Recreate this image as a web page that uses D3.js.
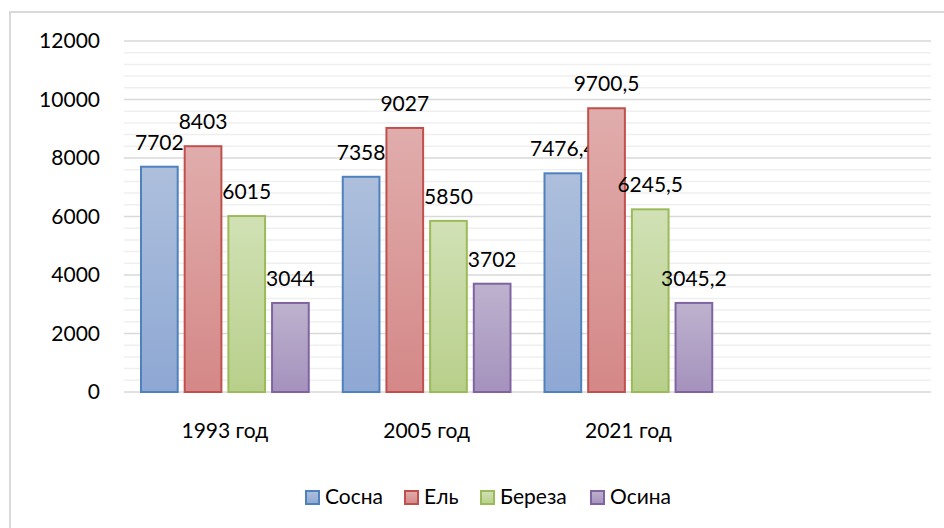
<!DOCTYPE html>
<html>
<head>
<meta charset="utf-8">
<script src="https://cdn.jsdelivr.net/npm/d3@7"></script>
<style>
  body { margin: 0; background: #fff; }
  text { font-family: Lato, "Open Sans", sans-serif; fill: #000; }
</style>
</head>
<body>
<script>
// data
let categories = ["1993 год", "2005 год", "2021 год", ""];
let seriesNames = ["Сосна", "Ель", "Береза", "Осина"];
let sosna  = [7702, 7358, 7476.4];
let el     = [8403, 9027, 9700.5];
let bereza = [6015, 5850, 6245.5];
let osina  = [3044, 3702, 3045.2];
let yTicks = [0, 2000, 4000, 6000, 8000, 10000, 12000];

let values = [sosna, el, bereza, osina];
let strokes = ["#4f81bd", "#c0504d", "#9bbb59", "#8064a2"];
let topCols = ["#adbfdc", "#e0adac", "#d1e1b5", "#bdb2ce"];
let botCols = ["#8ea8d4", "#d48887", "#b8cf8b", "#a592bd"];

let W = 944, H = 528;
let margin = {top: 41, right: 13, bottom: 136, left: 124};
let width = W - margin.left - margin.right;
let height = H - margin.top - margin.bottom;
let fontSize = "21px";

let svg = d3.select("body").append("svg")
    .attr("width", W).attr("height", H);

// outer frame (runs off the bottom/right edge)
svg.append("rect")
    .attr("x", 10).attr("y", 12)
    .attr("width", 960).attr("height", 540)
    .attr("fill", "none").attr("stroke", "#d9d9d9").attr("stroke-width", 2);

// gradients
let defs = svg.append("defs");
seriesNames.forEach(function(s, i) {
    let gr = defs.append("linearGradient").attr("id", "grad" + i)
        .attr("x1", 0).attr("y1", 0).attr("x2", 0).attr("y2", 1);
    gr.append("stop").attr("offset", "0%").attr("stop-color", topCols[i]);
    gr.append("stop").attr("offset", "100%").attr("stop-color", botCols[i]);
});

let g = svg.append("g")
    .attr("transform", "translate(" + margin.left + "," + margin.top + ")");

let x0 = d3.scaleBand().domain(categories).range([0, width]);
let x1 = d3.scaleBand().domain(seriesNames)
    .range([17, x0.bandwidth() - 17]).paddingInner(0.16);
let y = d3.scaleLinear().domain([0, 12000]).range([height, 0]);

// minor gridlines
g.append("g").selectAll("line")
    .data(d3.range(400, 12000, 400).filter(function(v) { return v % 2000 != 0; }))
    .join("line")
    .attr("x1", 0).attr("x2", width)
    .attr("y1", function(d) { return y(d); }).attr("y2", function(d) { return y(d); })
    .attr("stroke", "#efefef").attr("stroke-width", 1.5);

// major gridlines
g.append("g").selectAll("line")
    .data(yTicks)
    .join("line")
    .attr("x1", 0).attr("x2", width)
    .attr("y1", function(d) { return y(d); }).attr("y2", function(d) { return y(d); })
    .attr("stroke", "#d9d9d9").attr("stroke-width", 1.5);

// y axis labels
let yAxis = d3.axisLeft(y).tickValues(yTicks).tickFormat(d3.format("d"))
    .tickSize(0).tickPadding(24);
g.append("g").call(yAxis)
    .call(function(a) { a.select(".domain").remove(); })
    .selectAll("text")
    .style("font-size", fontSize).attr("fill", "#000");

// x axis labels
let xAxis = d3.axisBottom(x0).tickSize(0).tickPadding(31);
g.append("g").attr("transform", "translate(0," + height + ")").call(xAxis)
    .call(function(a) { a.select(".domain").remove(); })
    .selectAll("text")
    .style("font-size", fontSize).attr("fill", "#000");

// bars
seriesNames.forEach(function(s, i) {
    let data = values[i].map(function(v, j) { return {cat: categories[j], v: v}; });
    let sg = g.append("g");
    sg.selectAll("rect").data(data).join("rect")
        .attr("x", function(d) { return x0(d.cat) + x1(s); })
        .attr("y", function(d) { return y(d.v); })
        .attr("width", x1.bandwidth())
        .attr("height", function(d) { return y(0) - y(d.v); })
        .attr("fill", "url(#grad" + i + ")")
        .attr("stroke", strokes[i]).attr("stroke-width", 2);
    sg.selectAll("text").data(data).join("text")
        .attr("x", function(d) { return x0(d.cat) + x1(s) + x1.bandwidth() / 2; })
        .attr("y", function(d) { return y(d.v) - 17; })
        .attr("text-anchor", "middle")
        .style("font-size", fontSize)
        .text(function(d) { return String(d.v).replace(".", ","); });
});

// legend
let legendX = [305, 404, 480, 590];
let legend = svg.append("g");
seriesNames.forEach(function(s, i) {
    legend.append("rect")
        .attr("x", legendX[i] + 1).attr("y", 491)
        .attr("width", 13).attr("height", 13)
        .attr("fill", "url(#grad" + i + ")")
        .attr("stroke", strokes[i]).attr("stroke-width", 2);
    legend.append("text")
        .attr("x", legendX[i] + 20).attr("y", 504)
        .style("font-size", fontSize)
        .text(s);
});
</script>
</body>
</html>
